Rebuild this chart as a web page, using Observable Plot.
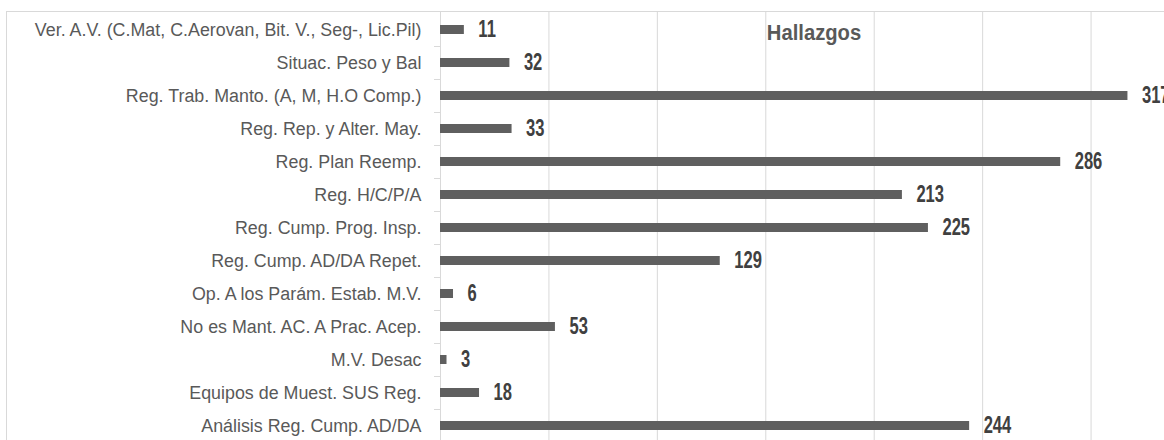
<!DOCTYPE html>
<html>
<head>
<meta charset="utf-8">
<script src="https://cdn.jsdelivr.net/npm/d3@7"></script>
<script src="https://cdn.jsdelivr.net/npm/@observablehq/plot@0.6"></script>
<style>
  html, body { margin: 0; padding: 0; background: #fff; overflow: hidden; width: 1164px; height: 440px; }
  #wrap { position: relative; width: 1164px; height: 440px; overflow: hidden; }
  #border { position: absolute; left: 6px; top: 11px; width: 1400px; height: 600px; border: 1px solid #d9d9d9; box-sizing: border-box; pointer-events: none; }
  #chart { position: absolute; left: 0; top: 0; }
  #chart svg { max-width: none !important; }
</style>
</head>
<body>
<div id="wrap"><div id="border"></div><div id="chart"></div></div>
<script>
const title = "Hallazgos";
const categories = [
  "Ver. A.V. (C.Mat, C.Aerovan, Bit. V., Seg-, Lic.Pil)",
  "Situac. Peso y Bal",
  "Reg. Trab. Manto. (A, M, H.O Comp.)",
  "Reg. Rep. y Alter. May.",
  "Reg. Plan Reemp.",
  "Reg. H/C/P/A",
  "Reg. Cump. Prog. Insp.",
  "Reg. Cump. AD/DA Repet.",
  "Op. A los Parám. Estab. M.V.",
  "No es Mant. AC. A Prac. Acep.",
  "M.V. Desac",
  "Equipos de Muest. SUS Reg.",
  "Análisis Reg. Cump. AD/DA"
];
const values = [11, 32, 317, 33, 286, 213, 225, 129, 6, 53, 3, 18, 244];
const xTicks = [0, 50, 100, 150, 200, 250, 300, 350];

const data = categories.map((c, i) => ({category: c, value: values[i]}));

const FONT = "'Liberation Sans', Arial, sans-serif";

// horizontally condense text glyphs around their anchor point
function condense(k) {
  return (index, scales, values, dims, context, next) => {
    const g = next(index, scales, values, dims, context);
    d3.select(g).selectAll("text").each(function() {
      const t = this.getAttribute("transform") || "";
      this.setAttribute("transform", t + ` scale(${k},1)`);
    });
    return g;
  };
}

// tick marks at category boundaries on the left axis
function boundaryTicks(index, scales, values, dims) {
  const g = d3.create("svg:g");
  const y = scales.y;
  const bw = y.bandwidth();
  const step = y.step();
  const x0 = scales.x(0);
  categories.forEach(c => {
    const yb = Math.round(y(c) + bw + (step - bw) / 2) + 0.5;
    g.append("line")
      .attr("x1", x0 - 6).attr("x2", x0)
      .attr("y1", yb).attr("y2", yb)
      .attr("stroke", "#d9d9d9").attr("stroke-width", 1);
  });
  return g.node();
}

const chart = Plot.plot({
  width: 1216,
  height: 446,
  marginLeft: 440,
  marginRight: 17,
  marginTop: 11,
  marginBottom: 1,
  style: {fontFamily: FONT, background: "transparent", overflow: "visible", maxWidth: "none"},
  x: {domain: [0, 350], axis: null},
  y: {domain: categories, paddingInner: 0.715, paddingOuter: 0.3575, axis: null},
  marks: [
    Plot.gridX(xTicks, {stroke: "#d9d9d9", strokeOpacity: 1, strokeWidth: 1}),
    boundaryTicks,
    Plot.barX(data, {x: "value", y: "category", fill: "#5f5f5f"}),
    Plot.text(data, {x: "value", y: "category", text: d => String(d.value), textAnchor: "start", dx: 14, dy: 0,
      fill: "#404040", fontWeight: "bold", fontSize: 23, fontFamily: FONT, render: condense(0.72)}),
    Plot.text(data, {x: 0, y: "category", text: "category", textAnchor: "end", dx: -19, dy: 0,
      fill: "#595959", fontSize: 18.8, fontFamily: FONT, render: condense(0.95)}),
    Plot.text([title], {frameAnchor: "top", text: d => d, dx: -6, dy: 21, lineAnchor: "middle", fill: "#595959",
      fontWeight: "bold", fontSize: 22, fontFamily: FONT, render: condense(0.92)})
  ]
});
document.getElementById("chart").appendChild(chart);
</script>
</body>
</html>
